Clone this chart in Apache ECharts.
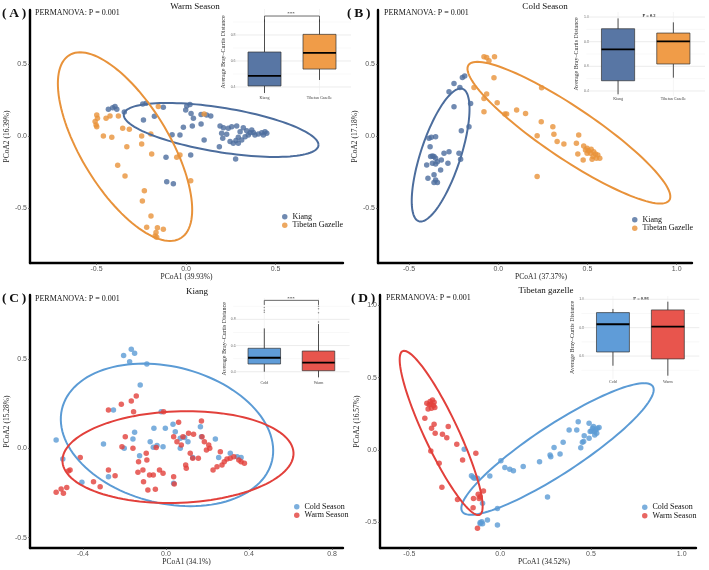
<!DOCTYPE html>
<html>
<head>
<meta charset="utf-8">
<script src="https://cdn.jsdelivr.net/npm/echarts@6/dist/echarts.min.js"></script>
<style>html,body{margin:0;padding:0;background:#fff}#chart{width:709px;height:570px}</style>
</head>
<body>
<div id="chart"></div>
<script>
// PCoA scores, [PCoA1, PCoA2]
// (A) warm season
var warmKiang = [[-0.434,0.185],[-0.410,0.197],[-0.397,0.204],[-0.387,0.185],[-0.345,0.167],[-0.242,0.222],[-0.223,0.227],[-0.238,0.111],[-0.177,0.137],[-0.127,0.199],[0.004,0.208],[0.022,0.218],[-0.002,0.181],[0.028,0.157],[0.041,0.123],[-0.015,0.060],[0.035,0.069],[0.084,0.083],[0.101,-0.028],[-0.078,0.009],[-0.034,0.007],[-0.112,-0.148],[0.026,-0.132],[-0.108,-0.317],[-0.071,-0.331],[0.084,0.150],[0.115,0.146],[0.138,0.139],[0.190,0.069],[0.209,0.058],[0.236,0.053],[0.255,0.065],[0.283,0.069],[0.199,0.019],[0.205,-0.016],[0.227,0.012],[0.246,-0.039],[0.264,-0.051],[0.279,-0.032],[0.292,-0.009],[0.302,0.030],[0.186,-0.074],[0.277,-0.160],[0.320,0.058],[0.339,0.037],[0.348,0.007],[0.358,0.023],[0.367,0.042],[0.376,0.025],[0.385,0.007],[0.404,0.014],[0.423,0.023],[0.441,0.030],[0.451,0.019],[0.432,0.007],[0.330,-0.005],[0.311,-0.028],[0.292,-0.051]];
var warmGazelle = [[-0.499,0.146],[-0.495,0.123],[-0.508,0.100],[-0.503,0.076],[-0.499,0.065],[-0.447,0.123],[-0.425,0.139],[-0.378,0.139],[-0.462,0.0],[-0.415,-0.009],[-0.354,0.053],[-0.317,0.046],[-0.331,-0.074],[-0.382,-0.204],[-0.341,-0.278],[-0.248,0.0],[-0.248,-0.056],[-0.197,0.014],[-0.192,-0.125],[-0.155,0.204],[-0.233,-0.380],[-0.244,-0.451],[-0.196,-0.556],[-0.220,-0.634],[-0.160,-0.637],[-0.127,-0.648],[-0.168,-0.671],[-0.173,-0.694],[-0.164,-0.704],[-0.034,-0.132],[-0.052,-0.148],[0.026,-0.310],[0.101,0.153]];
// (B) cold season
var coldKiang = [[-0.248,0.365],[-0.215,0.337],[-0.201,0.406],[-0.188,0.416],[-0.276,0.307],[-0.248,0.203],[-0.155,0.226],[-0.164,0.065],[-0.207,0.037],[-0.220,-0.120],[-0.211,-0.162],[-0.388,-0.016],[-0.375,-0.009],[-0.351,-0.005],[-0.382,-0.074],[-0.369,-0.139],[-0.379,-0.143],[-0.360,-0.143],[-0.351,-0.155],[-0.369,-0.189],[-0.351,-0.194],[-0.401,-0.201],[-0.341,-0.178],[-0.319,-0.166],[-0.304,-0.120],[-0.276,-0.109],[-0.282,-0.189],[-0.323,-0.236],[-0.360,-0.270],[-0.351,-0.305],[-0.341,-0.323],[-0.394,-0.293],[-0.360,-0.323]];
var coldGazelle = [[-0.080,0.550],[-0.065,0.545],[-0.052,0.522],[-0.021,0.550],[-0.024,0.404],[-0.136,0.337],[-0.065,0.291],[-0.080,0.261],[-0.080,0.169],[-0.006,0.231],[0.037,0.152],[0.047,0.152],[0.103,0.180],[0.153,0.157],[0.243,0.335],[0.241,0.099],[0.306,0.065],[0.218,0.002],[0.312,0.012],[0.330,-0.039],[0.368,-0.055],[0.218,-0.282],[0.451,0.007],[0.438,-0.051],[0.479,-0.069],[0.446,-0.125],[0.476,-0.166],[0.498,-0.085],[0.507,-0.102],[0.521,-0.092],[0.535,-0.109],[0.545,-0.125],[0.558,-0.132],[0.532,-0.143],[0.517,-0.120],[0.569,-0.155],[0.526,-0.162],[0.550,-0.155],[0.498,-0.120],[0.489,-0.097]];
// (C) kiang, cold vs warm
var kiangCold = [[-0.529,0.047],[-0.497,-0.060],[-0.405,-0.190],[-0.301,0.024],[-0.277,-0.159],[-0.253,0.215],[-0.204,0.519],[-0.175,0.485],[-0.167,0.554],[-0.151,0.532],[-0.092,0.472],[-0.124,0.354],[-0.201,0.0],[-0.159,0.052],[-0.151,0.090],[-0.127,-0.041],[-0.076,0.037],[-0.058,0.112],[-0.061,0.006],[-0.043,0.015],[-0.014,0.009],[-0.003,0.112],[-0.023,0.205],[0.034,0.134],[0.037,-0.196],[0.045,0.093],[0.069,0.0],[0.069,0.056],[0.090,0.060],[0.106,0.037],[0.129,-0.052],[0.166,0.121],[0.171,0.065],[0.238,0.052],[0.254,-0.052],[0.310,-0.028],[0.343,-0.047],[0.362,-0.052]];
var kiangWarm = [[-0.529,-0.246],[-0.505,-0.228],[-0.494,-0.252],[-0.478,-0.220],[-0.470,-0.127],[-0.462,-0.121],[-0.413,-0.052],[-0.349,-0.187],[-0.317,-0.215],[-0.277,0.215],[-0.277,-0.121],[-0.245,-0.153],[-0.215,0.246],[-0.212,0.009],[-0.196,0.065],[-0.167,0.265],[-0.159,0.0],[-0.156,0.205],[-0.143,0.293],[-0.135,-0.134],[-0.132,-0.075],[-0.111,-0.121],[-0.108,-0.187],[-0.095,-0.028],[-0.092,-0.065],[-0.087,-0.233],[-0.079,-0.149],[-0.061,-0.149],[-0.051,-0.229],[-0.047,0.004],[-0.031,-0.121],[-0.014,-0.140],[-0.011,0.205],[0.037,0.065],[0.037,-0.159],[0.040,-0.200],[0.053,0.037],[0.061,0.146],[0.074,0.019],[0.082,0.065],[0.095,-0.093],[0.098,-0.112],[0.109,0.084],[0.117,-0.028],[0.129,-0.056],[0.133,0.078],[0.156,-0.056],[0.171,0.153],[0.174,0.065],[0.185,0.037],[0.195,-0.009],[0.206,0.019],[0.211,0.0],[0.227,-0.121],[0.246,-0.103],[0.262,-0.019],[0.270,-0.093],[0.281,-0.075],[0.294,-0.060],[0.310,-0.056],[0.327,-0.047],[0.351,-0.065],[0.362,-0.075],[0.378,-0.084]];
// (D) tibetan gazelle, cold vs warm
var gazelleCold = [[-0.198,0.005],[-0.158,-0.178],[-0.149,-0.189],[-0.143,-0.196],[-0.125,-0.196],[-0.057,-0.180],[-0.097,-0.369],[-0.110,-0.501],[-0.101,-0.496],[-0.110,-0.510],[-0.097,-0.510],[-0.070,-0.485],[-0.015,-0.404],[-0.015,-0.519],[0.004,-0.074],[0.026,-0.122],[0.053,-0.134],[0.073,-0.143],[0.127,-0.115],[0.217,-0.081],[0.261,-0.325],[0.275,-0.035],[0.279,-0.046],[0.297,0.018],[0.330,-0.028],[0.347,0.053],[0.380,0.138],[0.430,0.196],[0.422,0.138],[0.444,0.016],[0.453,0.053],[0.463,0.099],[0.460,0.058],[0.490,0.185],[0.496,0.127],[0.490,0.081],[0.509,0.150],[0.518,0.127],[0.527,0.138],[0.514,0.162],[0.532,0.115],[0.521,0.104],[0.536,0.150],[0.545,0.155],[0.503,0.132]];
var gazelleWarm = [[-0.415,0.219],[-0.404,0.323],[-0.391,0.312],[-0.386,0.335],[-0.373,0.346],[-0.364,0.330],[-0.378,0.288],[-0.397,0.284],[-0.367,0.307],[-0.382,0.316],[-0.360,0.293],[-0.378,0.150],[-0.364,0.178],[-0.358,0.115],[-0.318,0.108],[-0.286,0.162],[-0.294,0.085],[-0.382,-0.007],[-0.336,-0.092],[-0.321,-0.258],[-0.239,0.039],[-0.207,-0.069],[-0.134,-0.023],[-0.235,-0.342],[-0.147,-0.335],[-0.121,-0.307],[-0.110,-0.323],[-0.116,-0.335],[-0.092,-0.284],[-0.149,-0.399],[-0.125,-0.542]];

// 95% ellipses: [centre x, centre y, axis u x, u y, conjugate v x, v y]
var warmKiangEll = [0.196, 0.042, 0.544, -0.104, 0, 0.156];
var warmGazelleEll = [-0.341, -0.074, -0.251, 0.655, 0.279, 0];
var coldKiangEll = [-0.323, -0.132, 0.112, 0.462, 0.117, 0];
var coldGazelleEll = [0.396, 0.023, -0.513, 0.492, 0.245, 0];
var kiangColdEll = [0.005, 0.075, -0.113, 0.399, 0.499, 0];
var kiangWarmEll = [0.058, -0.049, 0.043, 0.257, 0.555, 0];
var gazelleColdEll = [0.316, 0.007, 0.477, 0.455, 0.231, 0];
var gazelleWarmEll = [-0.325, 0.118, -0.204, 0.568, 0.103, 0];

// inset boxplots: [min, q1, median, q3, max]
var warmBoxKiang = [0.354, 0.408, 0.485, 0.669, 0.92];
var warmBoxGazelle = [0.454, 0.538, 0.662, 0.805, 0.92];
var coldBoxKiang = [0.373, 0.483, 0.738, 0.905, 0.989];
var coldBoxGazelle = [0.508, 0.619, 0.803, 0.870, 0.957];
var kiangBoxCold = [0.40, 0.459, 0.507, 0.579, 0.731];
var kiangBoxWarm = [0.357, 0.408, 0.469, 0.558, 0.764];
var gazelleBoxCold = [0.532, 0.629, 0.824, 0.906, 0.932];
var gazelleBoxWarm = [0.462, 0.580, 0.807, 0.925, 0.983];
var kiangOutCold = [0.89, 0.87, 0.855];
var kiangOutWarm = [0.90, 0.88, 0.85, 0.78];

var speciesCats = ['Kiang', 'Tibetan Gazelle'];
var seasonCats = ['Cold', 'Warm'];

// tick values
var ticksA_x = [-0.5, 0, 0.5], ticksA_y = [-0.5, 0, 0.5];
var ticksB_x = [-0.5, 0, 0.5, 1.0], ticksB_y = [-0.5, 0, 0.5];
var ticksC_x = [-0.4, 0, 0.4, 0.8], ticksC_y = [-0.5, 0, 0.5];
var ticksD_x = [-0.5, 0, 0.5, 1.0], ticksD_y = [-0.5, 0, 0.5, 1.0];

var blueK = '#4c6d9d', orangeG = '#e8923a', coldCol = '#5b9bd5', warmCol = '#e2403b';
var boxBlue = '#5876a4', boxOrange = '#f09c48', boxCold = '#5f9cd8', boxWarm = '#e8554d';
var serif = 'Liberation Serif', sans = 'Liberation Sans';

var chart = echarts.init(document.getElementById('chart'), null, {renderer: 'canvas'});

function mainX(gi, min, max, ticks, name, shift) {
  return {
    type: 'value', gridIndex: gi, min: min, max: max,
    name: name, nameLocation: 'middle', nameGap: 10,
    nameTextStyle: {fontFamily: serif, fontSize: 7.5, color: '#222', padding: [0, 0, 0, shift || 0]},
    axisLine: {onZero: false, lineStyle: {color: '#000', width: 2.4}},
    axisTick: {show: true, length: 2, customValues: ticks, lineStyle: {color: '#444', width: 0.7}},
    axisLabel: {customValues: ticks, formatter: function (v) { return v.toFixed(1); }, fontFamily: sans, fontSize: 7, color: '#555', margin: 2.5},
    splitLine: {show: false}
  };
}
function mainY(gi, min, max, ticks, name, gap) {
  return {
    type: 'value', gridIndex: gi, min: min, max: max,
    name: name, nameLocation: 'middle', nameGap: gap,
    nameTextStyle: {fontFamily: serif, fontSize: 7.5, color: '#222'},
    axisLine: {onZero: false, lineStyle: {color: '#000', width: 2.4}},
    axisTick: {show: true, length: 2, customValues: ticks, lineStyle: {color: '#444', width: 0.7}},
    axisLabel: {customValues: ticks, formatter: function (v) { return v.toFixed(1); }, fontFamily: sans, fontSize: 7, color: '#555', margin: 3},
    splitLine: {show: false}
  };
}
function insetX(gi, cats) {
  return {
    type: 'category', gridIndex: gi, data: cats,
    axisLine: {show: false}, axisTick: {show: false},
    axisLabel: {fontFamily: serif, fontSize: 4, color: '#444', margin: 1.5},
    splitLine: {show: false}
  };
}
function insetY(gi, min, max, labels, gap) {
  return {
    type: 'value', gridIndex: gi, min: min, max: max,
    name: 'Average Bray\u2013Curtis Distance', nameLocation: 'middle', nameGap: gap,
    nameTextStyle: {fontFamily: serif, fontSize: 6, color: '#333'},
    axisLine: {show: false}, axisTick: {show: false},
    axisLabel: {customValues: labels, formatter: function (v) { return v.toFixed(1); }, fontFamily: sans, fontSize: 3.5, color: '#666', margin: 1.5},
    splitLine: {show: false}
  };
}

function ellipseItem(params, api) {
  var cx = api.value(0), cy = api.value(1);
  var c = api.coord([cx, cy]);
  var u = api.coord([cx + api.value(2), cy + api.value(3)]);
  var v = api.coord([cx + api.value(4), cy + api.value(5)]);
  var pts = [];
  for (var i = 0; i <= 120; i++) {
    var t = i / 120 * Math.PI * 2;
    pts.push([
      c[0] + (u[0] - c[0]) * Math.cos(t) + (v[0] - c[0]) * Math.sin(t),
      c[1] + (u[1] - c[1]) * Math.cos(t) + (v[1] - c[1]) * Math.sin(t)
    ]);
  }
  return {type: 'polyline', shape: {points: pts}, style: {fill: 'none', stroke: api.visual('color'), lineWidth: 2}};
}
function ellipse(name, idx, ell, color) {
  return {
    type: 'custom', name: name, xAxisIndex: idx, yAxisIndex: idx, silent: true, z: 3,
    dimensions: ['cx', 'cy', 'ux', 'uy', 'vx', 'vy'], encode: {x: 'cx', y: 'cy'},
    data: [ell], itemStyle: {color: color}, renderItem: ellipseItem
  };
}
function points(name, idx, data, color) {
  return {type: 'scatter', name: name, xAxisIndex: idx, yAxisIndex: idx, data: data, symbolSize: 5.5, itemStyle: {color: color}, z: 2};
}

// inset boxes drawn with the axes' scales (no whisker caps, thick median)
function boxes(idx, a, b, colors) {
  return {
    type: 'custom', xAxisIndex: idx, yAxisIndex: idx, silent: true, z: 4,
    encode: {x: 0, y: [1, 2, 3, 4, 5]},
    data: [[0].concat(a), [1].concat(b)],
    renderItem: function (params, api) {
      var x = api.value(0);
      var lo = api.coord([x, api.value(1)]), q1 = api.coord([x, api.value(2)]);
      var md = api.coord([x, api.value(3)]), q3 = api.coord([x, api.value(4)]);
      var hi = api.coord([x, api.value(5)]);
      var w = api.size([1, 0])[0] * 0.6;
      return {type: 'group', children: [
        {type: 'line', shape: {x1: lo[0], y1: lo[1], x2: hi[0], y2: hi[1]}, style: {stroke: '#3a3a3a', lineWidth: 0.9}},
        {type: 'rect', shape: {x: q3[0] - w / 2, y: q3[1], width: w, height: q1[1] - q3[1]}, style: {fill: colors[params.dataIndex], stroke: '#333', lineWidth: 0.7}},
        {type: 'line', shape: {x1: md[0] - w / 2, y1: md[1], x2: md[0] + w / 2, y2: md[1]}, style: {stroke: '#000', lineWidth: 1.8}}
      ]};
    }
  };
}
function insetGrid(idx, majors, minors) {
  var rows = [];
  majors.forEach(function (v) { rows.push([0, v, 0]); });
  minors.forEach(function (v) { rows.push([0, v, 1]); });
  rows.push([0, majors[0], 2]);
  rows.push([1, majors[0], 2]);
  return {
    type: 'custom', xAxisIndex: idx, yAxisIndex: idx, silent: true, z: 1,
    encode: {x: 0, y: 1}, data: rows,
    renderItem: function (params, api) {
      var cs = params.coordSys;
      var kind = api.value(2);
      if (kind === 2) {
        var px = api.coord([api.value(0), api.value(1)])[0];
        return {type: 'line', shape: {x1: px, y1: cs.y, x2: px, y2: cs.y + cs.height}, style: {stroke: '#ececec', lineWidth: 0.6}};
      }
      var py = api.coord([0, api.value(1)])[1];
      return {type: 'line', shape: {x1: cs.x - 4, y1: py, x2: cs.x + cs.width + 4, y2: py},
        style: {stroke: kind === 0 ? '#e4e4e4' : '#f0f0f0', lineWidth: kind === 0 ? 0.7 : 0.5}};
    }
  };
}
function bracket(idx, low, high) {
  return {
    type: 'line', xAxisIndex: idx, yAxisIndex: idx, silent: true, z: 3, symbol: 'none',
    data: [[0, low], [0, high], [1, high], [1, low]],
    lineStyle: {color: '#444', width: 0.8}
  };
}

function txt(s, x, y, size, align, bold) {
  return {type: 'text', x: x, y: y, silent: true, style: {
    text: s, fill: '#111', align: align || 'left', verticalAlign: 'middle',
    font: (bold ? 'bold ' : '') + size + 'px "' + serif + '"'
  }};
}

var legendText = {fontFamily: serif, fontSize: 8, color: '#111', lineHeight: 8.5};
function legend(names, left, top) {
  return {data: names, left: left, top: top, orient: 'vertical', itemGap: 0, itemWidth: 5.5, itemHeight: 5.5, icon: 'circle', padding: 0, textStyle: legendText, selectedMode: false};
}

var option = {
  animation: false,
  backgroundColor: '#fff',
  grid: [
    {left: 30, top: 10, width: 313, height: 253, outerBoundsMode: 'none'},
    {left: 378, top: 10, width: 314, height: 253, outerBoundsMode: 'none'},
    {left: 30, top: 295, width: 313, height: 253, outerBoundsMode: 'none'},
    {left: 380, top: 295, width: 316, height: 253, outerBoundsMode: 'none'},
    {left: 237, top: 9, width: 110, height: 85.8, outerBoundsMode: 'none'},
    {left: 590.4, top: 12.1, width: 110.6, height: 83.8, outerBoundsMode: 'none'},
    {left: 237.2, top: 298, width: 108.4, height: 81.6, outerBoundsMode: 'none'},
    {left: 585.5, top: 296, width: 109.8, height: 82.8, outerBoundsMode: 'none'}
  ],
  xAxis: [
    mainX(0, -0.872, 0.877, ticksA_x, 'PCoA1 (39.93%)'),
    mainX(1, -0.674, 1.086, ticksB_x, 'PCoA1 (37.37%)', 12),
    mainX(2, -0.655, 0.853, ticksC_x, 'PCoA1 (34.1%)'),
    mainX(3, -0.662, 1.079, ticksD_x, 'PCoA1 (34.52%)', 12),
    insetX(4, speciesCats),
    insetX(5, speciesCats),
    insetX(6, seasonCats),
    insetX(7, seasonCats)
  ],
  yAxis: [
    mainY(0, -0.882, 0.875, ticksA_y, 'PCoA2 (16.39%)', 14.5),
    mainY(1, -0.882, 0.875, ticksB_y, 'PCoA2 (17.18%)', 15.3),
    mainY(2, -0.558, 0.858, ticksC_y, 'PCoA2 (15.28%)', 16.3),
    mainY(3, -0.678, 1.072, ticksD_y, 'PCoA2 (16.57%)', 17.3),
    insetY(4, 0.34, 1.0, [0.4, 0.6, 0.8], 8),
    insetY(5, 0.36, 1.04, [0.4, 0.6, 0.8, 1.0], 11.4),
    insetY(6, 0.34, 0.963, [0.4, 0.6, 0.8], 10),
    insetY(7, 0.44, 1.023, [0.6, 0.8, 1.0], 10.5)
  ],
  legend: [
    legend(['Kiang', 'Tibetan Gazelle'], 282, 212.5),
    legend(['Kiang', 'Tibetan Gazelle'], 632, 215.5),
    legend(['Cold Season', 'Warm Season'], 294, 502.5),
    legend(['Cold Season', 'Warm Season'], 642, 503)
  ],
  series: [
    points('Kiang', 0, warmKiang, blueK),
    points('Tibetan Gazelle', 0, warmGazelle, orangeG),
    ellipse('Kiang ellipse', 0, warmKiangEll, blueK),
    ellipse('Tibetan Gazelle ellipse', 0, warmGazelleEll, orangeG),

    points('Kiang', 1, coldKiang, blueK),
    points('Tibetan Gazelle', 1, coldGazelle, orangeG),
    ellipse('Kiang ellipse', 1, coldKiangEll, blueK),
    ellipse('Tibetan Gazelle ellipse', 1, coldGazelleEll, orangeG),

    points('Cold Season', 2, kiangCold, coldCol),
    points('Warm Season', 2, kiangWarm, warmCol),
    ellipse('Cold ellipse', 2, kiangColdEll, coldCol),
    ellipse('Warm ellipse', 2, kiangWarmEll, warmCol),

    points('Cold Season', 3, gazelleCold, coldCol),
    points('Warm Season', 3, gazelleWarm, warmCol),
    ellipse('Cold ellipse', 3, gazelleColdEll, coldCol),
    ellipse('Warm ellipse', 3, gazelleWarmEll, warmCol),

    insetGrid(4, [0.4, 0.6, 0.8], [0.5, 0.7, 0.9]),
    bracket(4, 0.9, 0.946),
    boxes(4, warmBoxKiang, warmBoxGazelle, [boxBlue, boxOrange]),

    insetGrid(5, [0.4, 0.6, 0.8, 1.0], [0.5, 0.7, 0.9]),
    boxes(5, coldBoxKiang, coldBoxGazelle, [boxBlue, boxOrange]),

    insetGrid(6, [0.4, 0.6, 0.8], [0.5, 0.7, 0.9]),
    bracket(6, 0.91, 0.945),
    {type: 'scatter', xAxisIndex: 6, yAxisIndex: 6, silent: true, symbolSize: 1.5, itemStyle: {color: '#777'},
      data: kiangOutCold.map(function (v) { return [0, v]; }).concat(kiangOutWarm.map(function (v) { return [1, v]; }))},
    boxes(6, kiangBoxCold, kiangBoxWarm, [boxCold, boxWarm]),

    insetGrid(7, [0.6, 0.8, 1.0], [0.5, 0.7, 0.9]),
    boxes(7, gazelleBoxCold, gazelleBoxWarm, [boxCold, boxWarm])
  ],
  graphic: [
    txt('(\u2009A\u2009)', 2, 14, 13.5, 'left', true),
    txt('(\u2009B\u2009)', 347, 14, 13.5, 'left', true),
    txt('(\u2009C\u2009)', 2, 299, 13.5, 'left', true),
    txt('(\u2009D\u2009)', 351, 299, 13.5, 'left', true),
    txt('PERMANOVA: P = 0.001', 35, 13, 8),
    txt('PERMANOVA: P = 0.001', 384, 13, 8),
    txt('PERMANOVA: P = 0.001', 35, 298.5, 8),
    txt('PERMANOVA: P = 0.001', 386, 298, 8),
    txt('Warm Season', 195, 7, 9, 'center'),
    txt('Cold Season', 545, 7, 9, 'center'),
    txt('Kiang', 197, 292, 9, 'center'),
    txt('Tibetan gazelle', 546, 291, 9, 'center'),
    txt('***', 291, 13.5, 5, 'center'),
    txt('P = 0.2', 649, 16, 4.5, 'center', true),
    txt('***', 291, 298.5, 5, 'center'),
    txt('P = 0.86', 641, 298.5, 4.5, 'center', true)
  ]
};
chart.setOption(option);
</script>
</body>
</html>
